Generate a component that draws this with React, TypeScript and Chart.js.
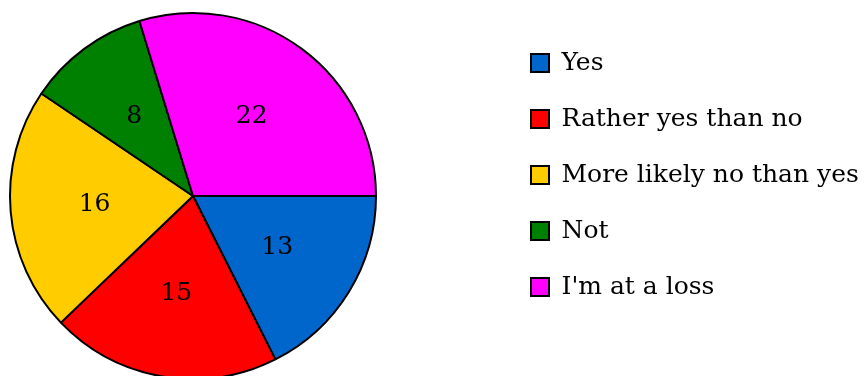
import React, { useEffect, useRef } from "react";
import { Chart, registerables } from "chart.js";

Chart.register(...registerables);

const categories = ["Yes", "Rather yes than no", "More likely no than yes", "Not", "I'm at a loss"];
const values = [13, 15, 16, 8, 22];
const colors = ["#0066CC", "#FF0000", "#FFCC00", "#008000", "#FF00FF"];

const FONT = "'DejaVu Serif', serif";
const FONT_SIZE = 25;

const placement = {
  id: "placement",
  afterLayout(chart: any) {
    const ca = chart.chartArea;
    ca.left = 10;
    ca.right = 376;
    ca.top = 13;
    ca.bottom = 379;
    ca.width = ca.right - ca.left;
    ca.height = ca.bottom - ca.top;
    const lg = chart.legend;
    if (lg) {
      const w = lg.width;
      lg.left = 500;
      lg.right = lg.left + w;
    }
  },
};

const valueLabels = {
  id: "valueLabels",
  afterDatasetsDraw(chart: any) {
    const ctx = chart.ctx;
    const meta = chart.getDatasetMeta(0);
    ctx.save();
    ctx.font = `${FONT_SIZE}px ${FONT}`;
    ctx.fillStyle = "#000";
    ctx.textAlign = "center";
    ctx.textBaseline = "middle";
    meta.data.forEach((arc: any, i: number) => {
      const { x, y, startAngle, endAngle, outerRadius } = arc.getProps(
        ["x", "y", "startAngle", "endAngle", "outerRadius"],
        true
      );
      const mid = (startAngle + endAngle) / 2;
      const d = outerRadius * 0.54;
      ctx.fillText(String(chart.data.datasets[0].data[i]), x + Math.cos(mid) * d, y + Math.sin(mid) * d);
    });
    ctx.restore();
  },
};

export default function App() {
  const ref = useRef<HTMLCanvasElement>(null);
  useEffect(() => {
    if (!ref.current) return;
    const chart = new Chart(ref.current, {
      type: "pie",
      data: {
        labels: categories,
        datasets: [
          {
            data: values,
            backgroundColor: colors,
            borderColor: "#000",
            borderWidth: 2,
          },
        ],
      },
      options: {
        animation: false,
        responsive: false,
        rotation: 90,
        radius: 183,
        layout: { padding: { top: 19.5, bottom: 0, left: 0, right: 0 } },
        plugins: {
          tooltip: { enabled: false },
          legend: {
            position: "right",
            align: "start",
            labels: {
              boxWidth: 18,
              boxHeight: 18,
              padding: 31,
              color: "#000",
              font: { family: FONT, size: FONT_SIZE },
              generateLabels: () =>
                categories.map((t, i) => ({
                  text: t,
                  fillStyle: colors[i],
                  strokeStyle: "#000",
                  lineWidth: 2,
                  hidden: false,
                  index: i,
                  fontColor: "#000",
                })),
            },
          },
        },
      } as any,
      plugins: [placement, valueLabels],
    });
    return () => chart.destroy();
  }, []);
  return (
    <div style={{ position: "absolute", left: 0, top: 0, width: 865, height: 376, overflow: "hidden", background: "#fff" }}>
      <canvas ref={ref} width={865} height={376} />
    </div>
  );
}
